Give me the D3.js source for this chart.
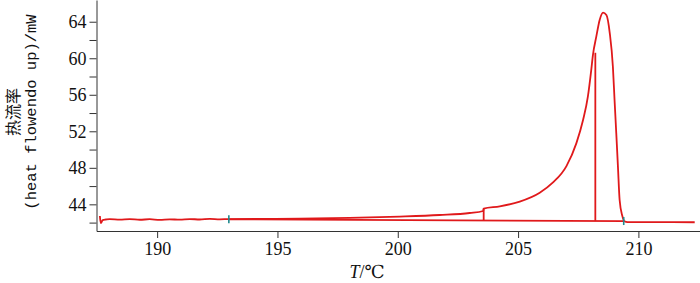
<!DOCTYPE html>
<html>
<head>
<meta charset="utf-8">
<script src="https://cdn.jsdelivr.net/npm/d3@7"></script>
<style>
  body { margin: 0; background: #fff; }
</style>
</head>
<body>
<svg width="700" height="283"></svg>
<script>
// DSC heat flow curve, T in degC, heat flow in mW
var curveT = [187.62, 187.66, 187.74, 187.87, 188.03, 188.45, 188.86, 189.28, 189.69, 190.11, 190.52, 190.94,
              191.36, 191.77, 192.19, 192.60, 192.98, 194.27, 195.93, 198.00, 200.08, 201.74, 202.99, 203.55,
              203.57, 204.24, 205.07, 205.90, 206.44, 207.01, 207.42, 207.70, 207.90, 208.04, 208.11, 208.25,
              208.39, 208.53, 208.67, 208.81, 208.94, 209.01, 209.08, 209.15, 209.22, 209.33, 209.42, 209.55, 210.88, 212.34];
var curveV = [42.72, 41.95, 42.28, 42.34, 42.39, 42.32, 42.39, 42.31, 42.37, 42.30, 42.36, 42.32,
              42.39, 42.34, 42.40, 42.36, 42.39, 42.40, 42.43, 42.52, 42.66, 42.83, 43.05, 43.27,
              43.54, 43.78, 44.30, 45.27, 46.37, 48.19, 50.68, 53.23, 55.79, 58.71, 60.35, 62.36,
              64.19, 64.99, 64.73, 62.76, 59.07, 55.38, 51.81, 48.12, 44.47, 42.75, 42.15, 42.06, 42.06, 42.04];

// integration baseline (start, end) and partial-area cut lines
var baseT = [192.98, 209.39];
var baseV = [42.36, 42.17];
var cutT = [203.57, 208.21];
var cutTop = [43.54, 60.6];
var markerT = [192.98, 209.39];

var xTicks = [190, 195, 200, 205, 210];
var yTicks = [44, 48, 52, 56, 60, 64];
var yMinor = [42, 46, 50, 54, 58, 62];

var serif = "'Liberation Serif', 'Times New Roman', 'DejaVu Serif', serif";

var svg = d3.select("svg");
var margin = {top: 0, right: 0, bottom: 52, left: 96.5},
    width = +svg.attr("width") - margin.left - margin.right,
    height = +svg.attr("height") - margin.top - margin.bottom,
    g = svg.append("g").attr("transform", "translate(" + margin.left + "," + margin.top + ")");

var x = d3.scaleLinear().domain([187.48, 212.56]).range([0, width]),
    y = d3.scaleLinear().domain([41.08, 66.38]).range([height, 0]);

var red = "#e0191b";

var xAxis = g.append("g")
  .attr("transform", "translate(0," + height + ")")
  .call(d3.axisBottom(x).tickValues(xTicks).tickSize(7).tickSizeOuter(0).tickPadding(4));

var yAxis = g.append("g")
  .call(d3.axisLeft(y).tickValues(yTicks).tickSize(7).tickSizeOuter(0).tickPadding(3));

g.append("g")
  .call(d3.axisLeft(y).tickValues(yMinor).tickSize(7).tickFormat("").tickSizeOuter(0))
  .select(".domain").remove();

g.selectAll("g").attr("font-family", serif).attr("font-size", 18);
g.selectAll(".tick text").attr("fill", "#111");
g.selectAll(".domain, .tick line").attr("stroke", "#333");

var line = d3.line()
  .curve(d3.curveMonotoneX)
  .x(function(d) { return x(d[0]); })
  .y(function(d) { return y(d[1]); });

var pts = curveT.map(function(t, i) { return [t, curveV[i]]; });

g.append("path")
  .attr("d", line(pts))
  .attr("fill", "none")
  .attr("stroke", red)
  .attr("stroke-width", 1.8)
  .attr("stroke-linejoin", "round");

g.append("path")
  .attr("d", d3.line().x(function(d) { return x(d[0]); }).y(function(d) { return y(d[1]); })
    ([[baseT[0], baseV[0]], [baseT[1], baseV[1]]]))
  .attr("fill", "none")
  .attr("stroke", red)
  .attr("stroke-width", 1.8);

var baseAt = d3.scaleLinear().domain(baseT).range(baseV);

g.selectAll(".cut")
  .data(cutT)
  .enter().append("line")
  .attr("class", "cut")
  .attr("x1", function(d) { return x(d); })
  .attr("x2", function(d) { return x(d); })
  .attr("y1", function(d) { return y(baseAt(d)); })
  .attr("y2", function(d, i) { return y(cutTop[i]); })
  .attr("stroke", red)
  .attr("stroke-width", 1.8);

g.selectAll(".marker")
  .data(markerT)
  .enter().append("line")
  .attr("class", "marker")
  .attr("x1", function(d) { return x(d); })
  .attr("x2", function(d) { return x(d); })
  .attr("y1", function(d) { return y(baseAt(d)) - 4; })
  .attr("y2", function(d) { return y(baseAt(d)) + 4; })
  .attr("stroke", "#1f8a8f")
  .attr("stroke-width", 1.6);

// axis titles
var xt = svg.append("text")
  .attr("x", 367)
  .attr("y", 278)
  .attr("text-anchor", "middle")
  .attr("font-family", serif)
  .attr("font-size", 18)
  .attr("fill", "#111");
xt.append("tspan").attr("font-style", "italic").text("T");
xt.append("tspan").text("/℃");

svg.append("text")
  .attr("transform", "translate(19,112) rotate(-90)")
  .attr("text-anchor", "middle")
  .attr("font-family", "'Noto Sans CJK SC', sans-serif")
  .attr("font-size", 16)
  .attr("fill", "#111")
  .text("热流率");

svg.append("text")
  .attr("transform", "translate(36,112) rotate(-90)")
  .attr("text-anchor", "middle")
  .attr("font-family", "'Liberation Mono', monospace")
  .attr("font-size", 15.5)
  .attr("fill", "#111")
  .text("(heat flowendo up)/mW");
</script>
</body>
</html>
